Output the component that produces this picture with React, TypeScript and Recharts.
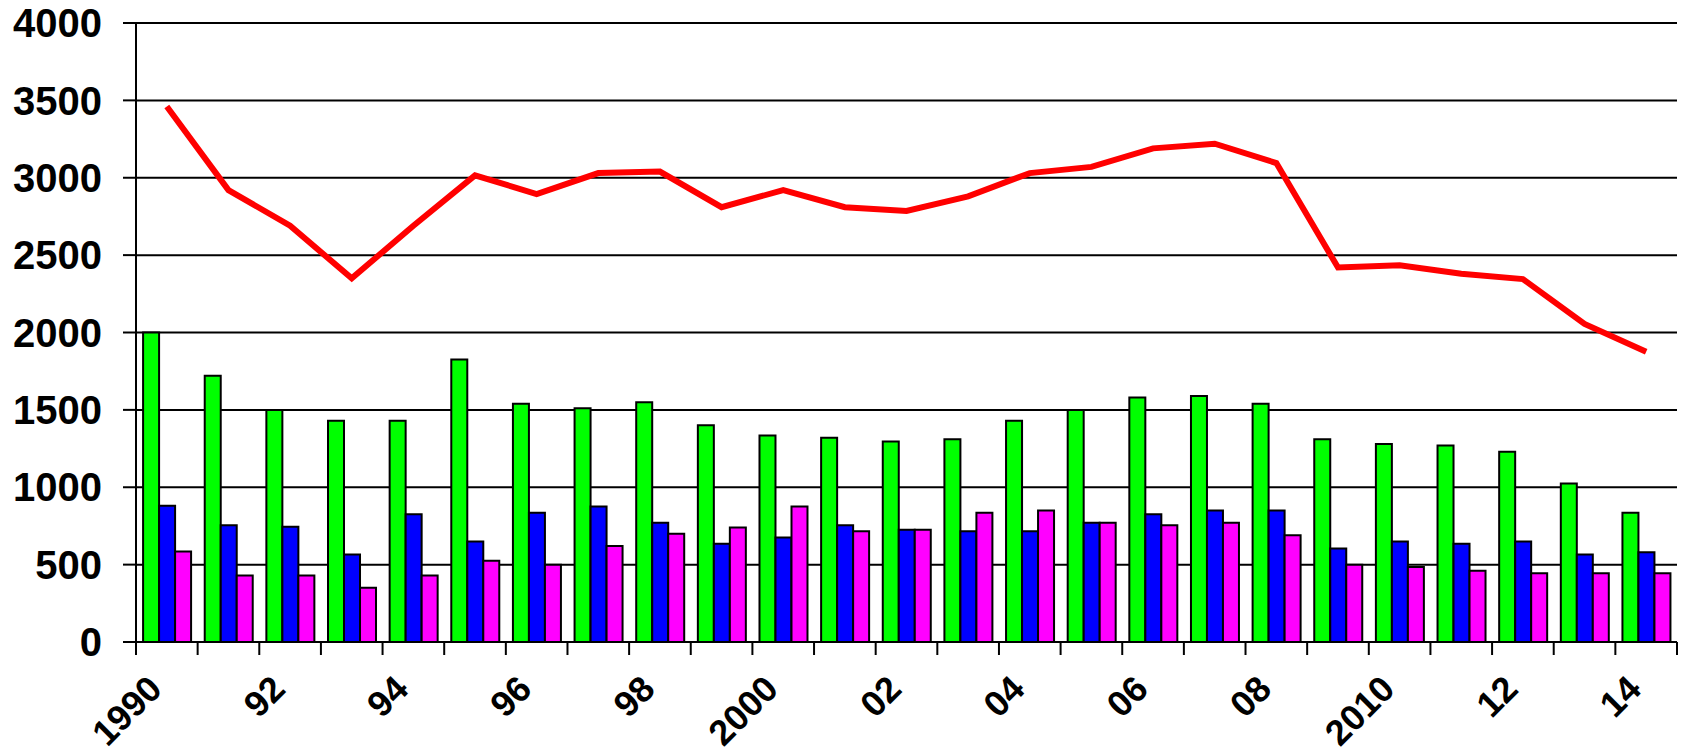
import React from 'react';
import { ComposedChart, Bar, Line, XAxis, YAxis, CartesianGrid } from 'recharts';

const years = ['1990','1991','1992','1993','1994','1995','1996','1997','1998','1999','2000','2001','2002','2003','2004','2005','2006','2007','2008','2009','2010','2011','2012','2013','2014'];
const tickLabels = ['1990','','92','','94','','96','','98','','2000','','02','','04','','06','','08','','2010','','12','','14'];
const greenValues = [2000,1720,1500,1430,1430,1825,1540,1510,1550,1400,1335,1320,1295,1310,1430,1500,1580,1590,1540,1310,1280,1270,1230,1025,835];
const blueValues = [880,755,745,565,825,650,835,875,770,635,675,755,725,715,715,770,825,850,850,605,650,635,650,565,580];
const magentaValues = [585,430,430,350,430,525,500,620,700,740,875,715,725,835,850,770,755,770,690,500,485,460,445,445,445];
const lineValues = [3460,2920,2690,2350,2690,3015,2895,3030,3040,2810,2920,2810,2785,2880,3030,3070,3190,3220,3095,2420,2435,2380,2345,2055,1875];
const yTicks = [0,500,1000,1500,2000,2500,3000,3500,4000];

const data = years.map((year, i) => ({
  year,
  label: tickLabels[i],
  green: greenValues[i],
  blue: blueValues[i],
  magenta: magentaValues[i],
  total: lineValues[i],
}));

const CHART_W = 1681;
const CHART_H = 753;
const Y_AXIS_W = 136;
const MARGIN = { top: 23, right: 4, bottom: 11, left: 0 };
const BAND = (CHART_W - Y_AXIS_W - MARGIN.right - MARGIN.left) / years.length;
const FONT = 'Liberation Sans, Arial, Helvetica, sans-serif';

const XTick = (props: any) => {
  const { x, y, index } = props;
  const label = tickLabels[index];
  const lx = x - BAND / 2;
  const ax = x - 3;
  const ay = y + 49;
  return (
    <g>
      <line x1={lx} y1={y} x2={lx} y2={y + 13} stroke="#000" strokeWidth={2} />
      {index === years.length - 1 && (
        <line x1={x + BAND / 2} y1={y} x2={x + BAND / 2} y2={y + 13} stroke="#000" strokeWidth={2} />
      )}
      {label ? (
        <text
          x={ax}
          y={ay}
          textAnchor="end"
          transform={`rotate(-45, ${ax}, ${ay})`}
          fontSize={36}
          fontWeight="bold"
          fontFamily={FONT}
          fill="#000"
        >
          {label}
        </text>
      ) : null}
    </g>
  );
};

export default function App() {
  return (
    <div style={{ position: 'absolute', left: 0, top: 0, background: '#fff' }}>
      <ComposedChart
        width={CHART_W}
        height={CHART_H}
        data={data}
        margin={MARGIN}
        barCategoryGap="11.5%"
        barGap={0}
      >
        <CartesianGrid vertical={false} stroke="#000" strokeWidth={2} />
        <XAxis
          dataKey="year"
          interval={0}
          height={100}
          tickSize={0}
          tickMargin={0}
          tickLine={false}
          axisLine={{ stroke: '#000', strokeWidth: 2 }}
          tick={<XTick />}
        />
        <YAxis
          width={Y_AXIS_W}
          domain={[0, 4000]}
          ticks={yTicks}
          interval={0}
          tickSize={13}
          tickMargin={21}
          axisLine={{ stroke: '#000', strokeWidth: 2 }}
          tickLine={{ stroke: '#000', strokeWidth: 2 }}
          tick={{ fontSize: 40, fontWeight: 'bold', fill: '#000', fontFamily: FONT }}
        />
        <YAxis
          yAxisId="r"
          orientation="right"
          width={0}
          domain={[0, 4000]}
          tick={false}
          tickLine={false}
          axisLine={{ stroke: '#000', strokeWidth: 2 }}
        />
        <Bar dataKey="green" fill="#00ff00" stroke="#000" strokeWidth={2} isAnimationActive={false} />
        <Bar dataKey="blue" fill="#0000ff" stroke="#000" strokeWidth={2} isAnimationActive={false} />
        <Bar dataKey="magenta" fill="#ff00ff" stroke="#000" strokeWidth={2} isAnimationActive={false} />
        <Line
          type="linear"
          dataKey="total"
          stroke="#ff0000"
          strokeWidth={6}
          dot={false}
          activeDot={false}
          isAnimationActive={false}
        />
      </ComposedChart>
    </div>
  );
}
